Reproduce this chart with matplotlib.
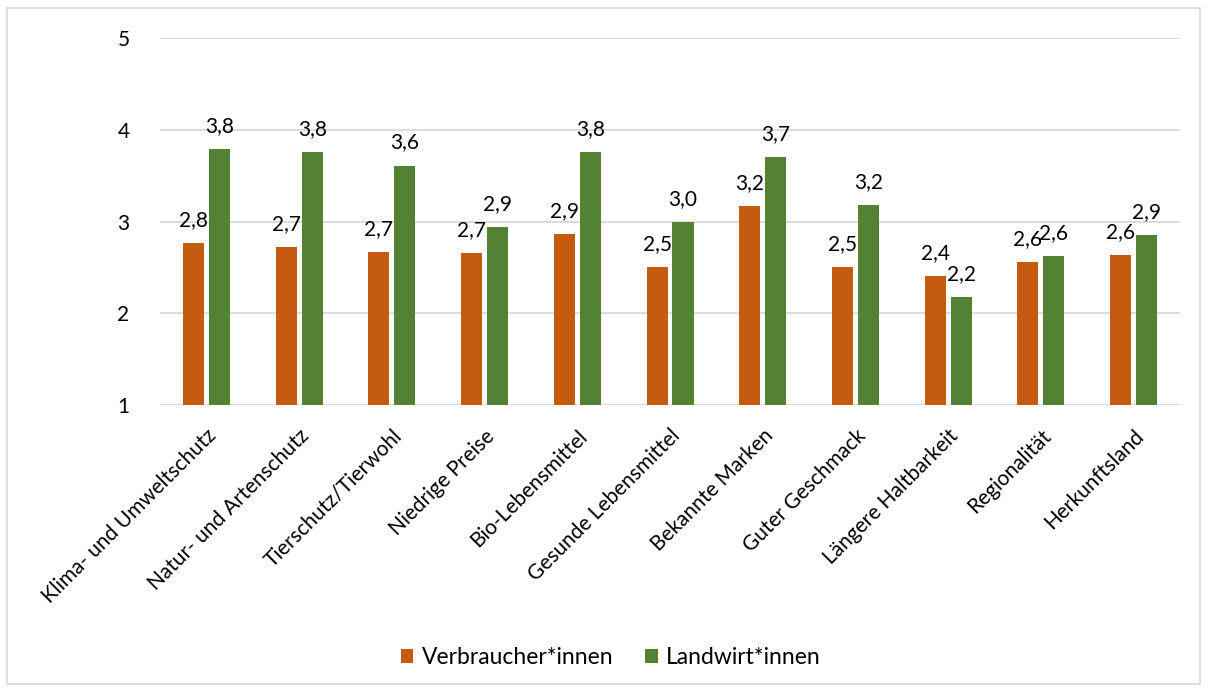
import matplotlib
matplotlib.use('Agg')
import matplotlib.pyplot as plt
import matplotlib.transforms as mtransforms
import numpy as np
from matplotlib.patches import Rectangle

plt.rcParams['font.family'] = ['Lato', 'DejaVu Sans']

# data
categories = ['Klima- und Umweltschutz', 'Natur- und Artenschutz', 'Tierschutz/Tierwohl',
              'Niedrige Preise', 'Bio-Lebensmittel', 'Gesunde Lebensmittel', 'Bekannte Marken',
              'Guter Geschmack', 'Längere Haltbarkeit', 'Regionalität', 'Herkunftsland']
verbraucher = [2.77, 2.72, 2.67, 2.66, 2.86, 2.50, 3.17, 2.50, 2.41, 2.56, 2.63]
landwirte = [3.79, 3.76, 3.61, 2.94, 3.76, 2.99, 3.70, 3.18, 2.18, 2.62, 2.85]
series_names = ['Verbraucher*innen', 'Landwirt*innen']
colors = ['#C55A11', '#548235']

fig = plt.figure(figsize=(12.07, 6.91), dpi=100)
ax = fig.add_axes([0.1326, 0.4139, 0.845, 0.5311])

x = np.arange(len(categories))
w = 0.227
off = 0.14
b1 = ax.bar(x - off, np.array(verbraucher) - 1, w, bottom=1, color=colors[0], label=series_names[0], zorder=3)
b2 = ax.bar(x + off, np.array(landwirte) - 1, w, bottom=1, color=colors[1], label=series_names[1], zorder=3)

for bars, vals in [(b1, verbraucher), (b2, landwirte)]:
    for rect, v in zip(bars, vals):
        ax.annotate(f'{v:.1f}'.replace('.', ','), (rect.get_x() + rect.get_width() / 2, v),
                    xytext=(0, 17), textcoords='offset pixels', ha='center', va='baseline',
                    fontsize=15, color='#000000')

ax.set_ylim(1, 5)
ax.set_xlim(-0.5, len(categories) - 0.5)
ax.set_yticks([1, 2, 3, 4, 5])
ax.grid(axis='y', color='#d9d9d9', linewidth=1.3, zorder=0)
for s in ax.spines.values():
    s.set_visible(False)
ax.tick_params(axis='both', length=0, labelsize=15)
ax.tick_params(axis='y', pad=22)
ax.set_xticks(x)
ax.set_xticklabels(categories, rotation=45, ha='right', va='top', rotation_mode='anchor')
shift = mtransforms.ScaledTranslation(-22 / 100, 0, fig.dpi_scale_trans)
for lbl in ax.get_xticklabels():
    lbl.set_fontsize(15)
    lbl.set_transform(lbl.get_transform() + shift)
ax.tick_params(axis='x', pad=15)

fig.legend(handles=[b1, b2], labels=series_names, loc='center', bbox_to_anchor=(0.506, 0.048),
           ncol=2, frameon=False, fontsize=16.5, handlelength=0.55, handleheight=0.55,
           handletextpad=0.35, columnspacing=1.4)

# light frame around the chart
fig.patches.append(Rectangle((0.006, 0.01), 0.988, 0.978, transform=fig.transFigure,
                             fill=False, edgecolor='#d9d9d9', linewidth=1.2))

fig.savefig('out.png', dpi=100)
